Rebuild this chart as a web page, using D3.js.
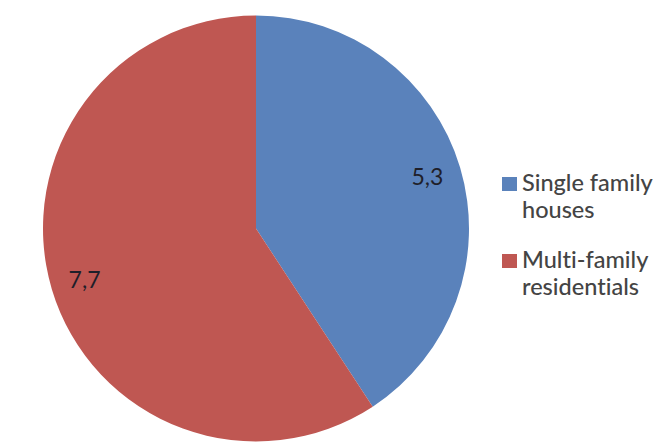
<!DOCTYPE html>
<html><head><meta charset="utf-8">
<script src="https://cdn.jsdelivr.net/npm/d3@7"></script>
<style>body{margin:0;background:#fff}svg{display:block}text{font-variant-ligatures:none;font-feature-settings:"liga" 0}</style>
</head><body>
<svg id="c" width="664" height="443"></svg>
<script>
const categories = ["Single family houses", "Multi-family residentials"];
const legendLines = [["Single family", "houses"], ["Multi-family", "residentials"]];
const values = [5.3, 7.7];
const valueLabels = ["5,3", "7,7"];
const colors = ["#5a82bb", "#bf5752"];

const svg = d3.select("#c");
const cx = 256, cy = 228.5, r = 213;
const pie = d3.pie().sort(null).value(d => d)(values);
const arc = d3.arc().innerRadius(0).outerRadius(r);
const g = svg.append("g").attr("transform", `translate(${cx},${cy})`);
g.selectAll("path").data(pie).join("path")
  .attr("d", arc).attr("fill", (d, i) => colors[i]);
const labelArc = d3.arc().innerRadius(r * 0.84).outerRadius(r * 0.84);
g.selectAll("text").data(pie).join("text")
  .attr("transform", d => `translate(${labelArc.centroid(d)})`)
  .attr("text-anchor", "middle").attr("dy", "0.35em")
  .attr("font-family", "Lato, sans-serif").attr("font-size", 23)
  .attr("fill", "#1f1f2a")
  .text((d, i) => valueLabels[i]);

const lg = svg.append("g");
const lys = [191, 268];
categories.forEach((c, i) => {
  lg.append("rect").attr("x", 502).attr("y", lys[i] - 14).attr("width", 15).attr("height", 14).attr("fill", colors[i]);
  legendLines[i].forEach((t, j) => {
    lg.append("text").attr("x", 522).attr("y", lys[i] + j * 27)
      .attr("font-family", "Lato, sans-serif").attr("font-size", 23.5)
      .attr("font-weight", 500)
      .attr("fill", "#444").text(t);
  });
});
</script>
</body></html>
